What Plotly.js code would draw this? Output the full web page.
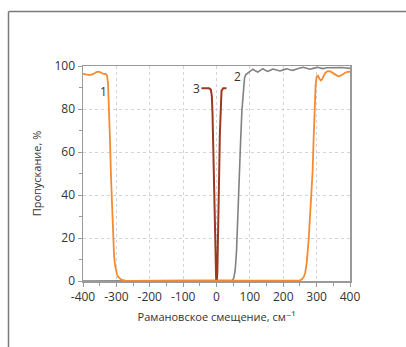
<!DOCTYPE html>
<html>
<head>
<meta charset="utf-8">
<script src="https://cdn.plot.ly/plotly-3.0.1.min.js"></script>
<style>html,body{margin:0;padding:0;background:#fff;}#chart{width:406px;height:347px;}</style>
</head>
<body>
<div id="chart"></div>
<script>
// Curve 1 (orange, notch filter edges)
const x1 = [-400,-390,-380,-370,-360,-352,-345,-338,-332,-328,-325,-322,-319,-316,-313,-310,-307,-304,-301,-298,-294,-290,-285,-280,-275,-270,-260,-200,-100,0,100,200,240,250,256,262,266,270,276,280,284,288,291,294,297,300,304,308,312,316,320,326,332,340,348,356,364,372,380,388,396,400];
const y1 = [96.3,96,95.8,96.2,97.2,97.4,96.8,96.3,96.3,95.5,92,82,65,48,33,20,12,7.5,4.5,3,1.8,1.1,0.6,0.35,0.15,0.05,0,0,0,0,0,0,0,0.3,0.8,2,4,8,19,29,39,51,66,80,91,95,95.5,94.2,93.3,93.8,95.2,96.8,97.5,97.6,96.8,95.8,95.2,95.5,96.3,97.1,97.4,97.3];
// Curve 2 (grey, long-pass edge)
const x2 = [-400,40,48,52,56,60,64,68,72,76,80,84,88,93,100,109,116,124,131,139,146,154,161,169,180,190,200,210,220,229,240,259,270,280,292,304,312,319,330,345,360,375,390,400];
const y2 = [0,0,0.3,1.5,5,14,28,46,64,79,89,94.5,96,96.5,97.5,98.5,97.8,97.2,98,98.7,98,97.5,98,98.6,98.1,97.7,98.2,98.7,98.3,98,98.6,99.4,99,98.5,99,99.4,99,98.8,99.2,99.3,99.1,99.3,99.1,98.9];
// Curve 3 (dark red, narrow notch)
const x3 = [-45,-22,-17,-14,-12,-10,-8,-6,-4,-2.5,-1,0,1,2.5,4,6,8,10,12,15,20,30];
const y3 = [89.6,89.6,89,86,78,62,45,28,14,4,0.5,0,0.5,4,14,30,50,68,82,88.5,89.6,89.6];
// Curve labels
const labelText = ["1","2","3"];
const labelX = [-340,64,-60];
const labelY = [88,95,89.6];
// Axis ticks
const xTicks = [-400,-300,-200,-100,0,100,200,300,400];
const yTicks = [0,20,40,60,80,100];

const font = "'Open Sans', 'DejaVu Sans', sans-serif";
const traces = [
  {x:x2, y:y2, mode:'lines', line:{color:'#828282', width:1.6}, hoverinfo:'skip'},
  {x:x3, y:y3, mode:'lines', line:{color:'#9a3822', width:2}, hoverinfo:'skip'},
  {x:x1, y:y1, mode:'lines', line:{color:'#f68a30', width:1.8}, hoverinfo:'skip'}
];
const annotations = labelText.map((t,i)=>({
  x:labelX[i], y:labelY[i], xref:'x', yref:'y', text:t, showarrow:false,
  font:{family:font, size:12, color:'#333'}, xanchor:'center', yanchor:'middle'
}));
const layout = {
  width:406, height:347,
  margin:{l:83, r:56, t:66, b:66},
  paper_bgcolor:'#fff', plot_bgcolor:'#fff',
  showlegend:false,
  font:{family:font, size:12, color:'#333'},
  xaxis:{
    range:[-400,400], tickvals:xTicks, ticktext:xTicks.map(String),
    showline:true, linecolor:'#9a9a9a', linewidth:1.5, mirror:true,
    ticks:'outside', ticklen:4, tickcolor:'#9a9a9a',
    minor:{dtick:50, ticks:'outside', ticklen:3, tickcolor:'#9a9a9a', showgrid:false},
    showgrid:true, gridcolor:'#d4d4d4', griddash:'dot', gridwidth:1,
    zeroline:false,
    tickfont:{family:font, size:12, color:'#333'},
    title:{text:'Рамановское смещение, см⁻¹', font:{family:font, size:11, color:'#333'}, standoff:9}
  },
  yaxis:{
    range:[0,100], tickvals:yTicks, ticktext:yTicks.map(String),
    showline:true, linecolor:'#9a9a9a', linewidth:1.5, mirror:true,
    ticks:'outside', ticklen:4, tickcolor:'#9a9a9a',
    minor:{dtick:10, ticks:'outside', ticklen:3, tickcolor:'#9a9a9a', showgrid:false},
    showgrid:true, gridcolor:'#d4d4d4', griddash:'dot', gridwidth:1,
    zeroline:false,
    tickfont:{family:font, size:12, color:'#333'},
    title:{text:'Пропускание, %', font:{family:font, size:11, color:'#333'}, standoff:10}
  },
  annotations:annotations,
  shapes:[
    {type:'line', xref:'paper', yref:'paper', x0:-0.279, x1:1.23, y0:1.2535, y1:1.2535, line:{color:'#7a7a7a', width:1.5}},
    {type:'line', xref:'paper', yref:'paper', x0:-0.279, x1:-0.279, y0:1.2535, y1:-0.33, line:{color:'#7a7a7a', width:1.5}}
  ]
};
Plotly.newPlot('chart', traces, layout, {staticPlot:true, displayModeBar:false});
</script>
</body>
</html>
